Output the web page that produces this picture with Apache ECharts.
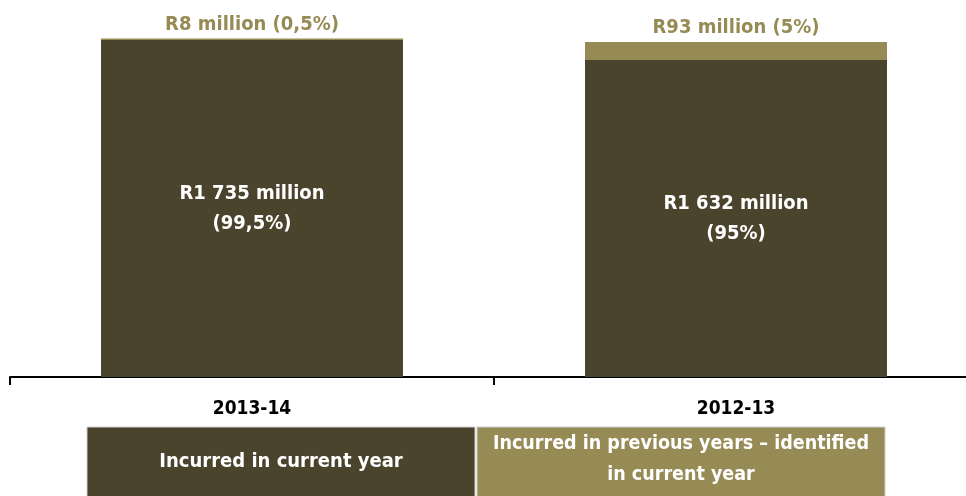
<!DOCTYPE html>
<html>
<head>
<meta charset="utf-8">
<script src="https://cdn.jsdelivr.net/npm/echarts@6/dist/echarts.min.js"></script>
<style>
  html, body { margin: 0; padding: 0; background: #fff; }
  #chart { width: 966px; height: 496px; }
</style>
</head>
<body>
<div id="chart"></div>
<script>
// Irregular expenditure, R million
const years = ['2013-14', '2012-13'];
const currentYear = [1735, 1632];
const previousYears = [8, 93];
const currentShare = ['99,5%', '95%'];
const previousShare = ['0,5%', '5%'];
const legendLabels = ['Incurred in current year', 'Incurred in previous years \u2013 identified\nin current year'];

const DARK = '#4a442d';
const OLIVE = '#968a55';
const FONT = '"DejaVu Sans Condensed", "Liberation Sans Narrow", sans-serif';

function rand(v) {
  return v >= 1000 ? Math.floor(v / 1000) + '\u00a0' + String(v % 1000).padStart(3, '0') : String(v);
}

const chart = echarts.init(document.getElementById('chart'));
chart.setOption({
  animation: false,
  grid: { left: 10, top: 10, right: -12, bottom: 119, outerBoundsMode: 'none', containLabel: false },
  xAxis: {
    type: 'category',
    data: years,
    axisLine: { lineStyle: { color: '#000', width: 2 } },
    axisTick: { show: true, length: 8, lineStyle: { color: '#000', width: 2 } },
    axisLabel: { color: '#000', fontFamily: FONT, fontWeight: 'bold', fontSize: 19, margin: 23 }
  },
  yAxis: { type: 'value', min: 0, max: 1890, show: false, splitLine: { show: false } },
  series: [
    {
      name: legendLabels[0],
      type: 'bar',
      stack: 'total',
      barWidth: 302,
      data: currentYear,
      itemStyle: { color: DARK },
      label: {
        show: true,
        position: 'inside',
        color: '#fff',
        fontFamily: FONT,
        fontWeight: 'bold',
        fontSize: 20,
        lineHeight: 30,
        formatter: p => 'R' + rand(p.value) + ' million\n(' + currentShare[p.dataIndex] + ')'
      }
    },
    {
      name: legendLabels[1],
      type: 'bar',
      stack: 'total',
      barWidth: 302,
      data: previousYears,
      itemStyle: { color: OLIVE },
      label: {
        show: true,
        position: 'top',
        distance: 4,
        color: OLIVE,
        fontFamily: FONT,
        fontWeight: 'bold',
        fontSize: 20,
        formatter: p => 'R' + rand(p.value) + ' million (' + previousShare[p.dataIndex] + ')'
      }
    }
  ],
  graphic: [
    { type: 'rect', shape: { x: 87, y: 427, width: 388, height: 72 },
      style: { fill: DARK, stroke: '#cfcfcf', lineWidth: 1 } },
    { type: 'rect', shape: { x: 477, y: 427, width: 408, height: 72 },
      style: { fill: OLIVE, stroke: '#cfcfcf', lineWidth: 1 } },
    { type: 'text', x: 281, y: 462,
      style: { text: legendLabels[0], fill: '#fff', font: 'bold 20px ' + FONT, align: 'center', verticalAlign: 'middle' } },
    { type: 'text', x: 681, y: 459,
      style: { text: legendLabels[1], fill: '#fff', font: 'bold 19.5px ' + FONT, align: 'center', verticalAlign: 'middle', lineHeight: 31 } }
  ]
});
</script>
</body>
</html>
